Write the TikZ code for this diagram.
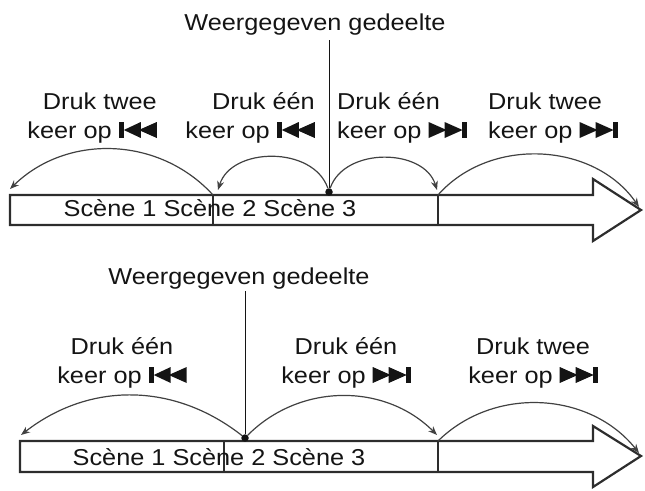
\documentclass[tikz,border=0pt]{standalone}
\usepackage{fontspec}
\setmainfont{Liberation Sans}[FakeStretch=1.1]
\definecolor{BarGray}{RGB}{45, 45, 45}
\definecolor{ArcGray}{RGB}{65, 65, 65}
\definecolor{InkBlack}{RGB}{20, 20, 20}
\usepackage{tikz}
\usetikzlibrary{arrows.meta, positioning, calc}

% playback buttons, drawn inline
\newcommand{\prevbtn}{\tikz[baseline=0pt, x=1pt, y=1pt]{
	\fill[InkBlack] (0,0) rectangle (5,16);
	\fill[InkBlack] (5,8) -- (22,16) -- (22,0) -- cycle;
	\fill[InkBlack] (20,8) -- (38,16) -- (38,0) -- cycle;}}
\newcommand{\nextbtn}{\tikz[baseline=0pt, x=1pt, y=1pt]{
	\fill[InkBlack] (0,0) -- (18,8) -- (0,16) -- cycle;
	\fill[InkBlack] (16,0) -- (34,8) -- (16,16) -- cycle;
	\fill[InkBlack] (33,0) rectangle (38,16);}}

\begin{document}
\begin{tikzpicture}[x=1pt, y=-1pt, font=\fontsize{23}{29}\selectfont,
	lbl/.style={inner sep=0pt, text=InkBlack, anchor=base},
	bar/.style={draw=BarGray, line width=2.2pt, line join=miter},
	dot/.style={circle, fill=InkBlack, inner sep=0pt, minimum size=7.5pt},
	jump/.style={-{Stealth[length=9pt, width=7pt]}, ArcGray, line width=1.2pt}]
	\useasboundingbox (0,0) rectangle (645,490);

	% upper strip
	\node[lbl] (titleA) at (315,30) {Weergegeven gedeelte};
	\draw[bar] (10,195) -- (593,195) -- (593,179) -- (641,210) -- (593,241)
		-- (593,225) -- (10,225) -- cycle;
	\draw[bar] (213,195) -- (213,225);
	\draw[bar] (438,195) -- (438,225);
	\node[lbl] (scA) at (210,216) {Scène 1 Scène 2 Scène 3};
	\node[dot] (posA) at (329,192) {};
	\coordinate (topA) at (329,40);
	\draw[InkBlack, line width=1pt] (topA) -- (posA);
	\coordinate (cutA1) at (213,195);
	\coordinate (cutA2) at (438,195);
	\coordinate (endA0) at (10,189);
	\coordinate (endA1) at (218,190);
	\coordinate (endA2) at (437,190);
	\coordinate (endA3) at (639,207);
	\node[lbl, align=right, anchor=base east] (pA2) at (157,138) {Druk twee\\keer op \prevbtn};
	\node[lbl, align=right, anchor=base east] (pA1) at (315,138) {Druk één\\keer op \prevbtn};
	\node[lbl, align=left, anchor=base west] (nA1) at (337,138) {Druk één\\keer op \nextbtn};
	\node[lbl, align=left, anchor=base west] (nA2) at (488,138) {Druk twee\\keer op \nextbtn};
	\draw[jump] (cutA1) to[bend right=46] (endA0);
	\draw[jump] (posA) to[bend right=72, looseness=1.05] (endA1);
	\draw[jump] (posA) to[bend left=72, looseness=1.05] (endA2);
	\draw[jump] (cutA2) to[bend left=52] (endA3);

	% lower strip
	\node[lbl] (titleB) at (239,284) {Weergegeven gedeelte};
	\draw[bar] (20,441) -- (593,441) -- (593,426) -- (641,456) -- (593,487)
		-- (593,472) -- (20,472) -- cycle;
	\draw[bar] (224,441) -- (224,472);
	\draw[bar] (438,441) -- (438,472);
	\node[lbl] (scB) at (219,465) {Scène 1 Scène 2 Scène 3};
	\node[dot] (posB) at (245,438) {};
	\coordinate (topB) at (245,291);
	\draw[InkBlack, line width=1pt] (topB) -- (posB);
	\coordinate (cutB2) at (438,441);
	\coordinate (endB0) at (21,435);
	\coordinate (endB2) at (437,435);
	\coordinate (endB3) at (639,453);
	\node[lbl, align=center] (pB1) at (122,383) {Druk één\\keer op \prevbtn};
	\node[lbl, align=center] (nB1) at (346,383) {Druk één\\keer op \nextbtn};
	\node[lbl, align=center] (nB2) at (533,383) {Druk twee\\keer op \nextbtn};
	\draw[jump] (posB) to[bend right=38] (endB0);
	\draw[jump] (posB) to[bend left=45] (endB2);
	\draw[jump] (cutB2) to[bend left=48] (endB3);
\end{tikzpicture}
\end{document}
